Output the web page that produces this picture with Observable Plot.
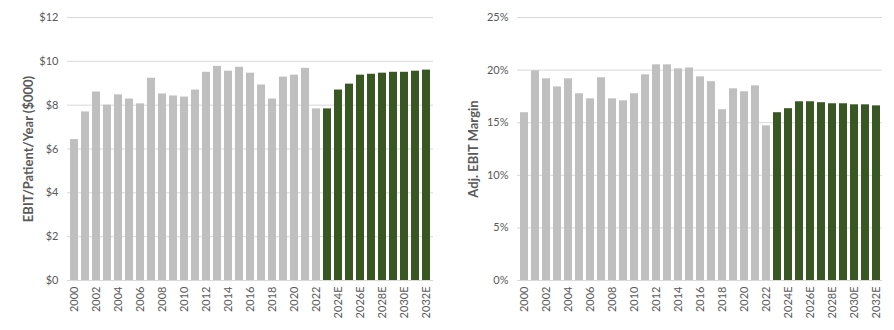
<!DOCTYPE html>
<html>
<head>
<meta charset="utf-8">
<script src="https://cdn.jsdelivr.net/npm/d3@7"></script>
<script src="https://cdn.jsdelivr.net/npm/@observablehq/plot@0.6"></script>
<style>
  html, body { margin: 0; padding: 0; background: #fff; }
  #wrap { display: flex; width: 894px; height: 330px; }
  svg { font-family: Lato, "Open Sans", sans-serif; color: #595959; }
</style>
</head>
<body>
<div id="wrap"></div>
<script>
const years = ["2000","2001","2002","2003","2004","2005","2006","2007","2008","2009","2010","2011","2012","2013","2014","2015","2016","2017","2018","2019","2020","2021","2022","2023E","2024E","2025E","2026E","2027E","2028E","2029E","2030E","2031E","2032E"];
const isForecast = [0,0,0,0,0,0,0,0,0,0,0,0,0,0,0,0,0,0,0,0,0,0,0,1,1,1,1,1,1,1,1,1,1];
const ebitPerPatient = [6.43,7.69,8.6,8.0,8.47,8.28,8.06,9.23,8.51,8.42,8.37,8.69,9.5,9.77,9.55,9.73,9.46,8.92,8.28,9.28,9.37,9.68,7.83,7.83,8.69,8.96,9.37,9.41,9.46,9.5,9.5,9.55,9.6];
const ebitMargin = [15.95,19.93,19.17,18.4,19.17,17.75,17.27,19.27,17.27,17.08,17.75,19.55,20.5,20.5,20.12,20.2,19.36,18.9,16.23,18.22,17.94,18.5,14.7,15.95,16.33,16.99,16.99,16.9,16.8,16.8,16.7,16.7,16.6];
const leftTicks = [0,2,4,6,8,10,12];
const rightTicks = [0,5,10,15,20,25];
const leftLabel = "EBIT/Patient/Year ($000)";
const rightLabel = "Adj. EBIT Margin";

const GRAY = "#bfbfbf", GREEN = "#385723", GRID = "#d9d9d9", TEXT = "#595959";

function chart(values, ticks, fmt, label, opts) {
  const data = years.map((y, i) => ({year: y, value: values[i], f: isForecast[i]}));
  return Plot.plot({
    width: 447,
    height: 330,
    marginLeft: opts.ml,
    marginRight: opts.mr,
    marginTop: 17,
    marginBottom: 50,
    style: {fontSize: "11px", fontFamily: "Lato, 'Open Sans', sans-serif", color: TEXT},
    x: {domain: years, paddingInner: 0.28, paddingOuter: 0.1},
    y: {domain: [0, ticks[ticks.length - 1]]},
    marks: [
      Plot.gridY(ticks, {stroke: GRID, strokeOpacity: 1, strokeWidth: 1}),
      Plot.barY(data, {x: "year", y: "value", fill: d => d.f ? GREEN : GRAY}),
      Plot.axisX({tickSize: 0, tickPadding: 6, tickRotate: -90, fill: TEXT,
        tickFormat: (d) => years.indexOf(d) % 2 === 0 ? d : "", label: null}),
      Plot.axisY(ticks, {tickSize: 0, tickPadding: 9, tickFormat: fmt, fill: TEXT, label: null}),
      Plot.text([label], {text: d => d, frameAnchor: "left", rotate: -90, dx: -opts.lo,
        fontWeight: "bold", fontSize: 13, fill: TEXT, textAnchor: "middle"})
    ]
  });
}

const wrap = document.getElementById("wrap");
wrap.append(chart(ebitPerPatient, leftTicks, d => "$" + d, leftLabel, {ml: 67, mr: 14, lo: 39}));
wrap.append(chart(ebitMargin, rightTicks, d => d + "%", rightLabel, {ml: 70, mr: 12, lo: 44}));
</script>
</body>
</html>
